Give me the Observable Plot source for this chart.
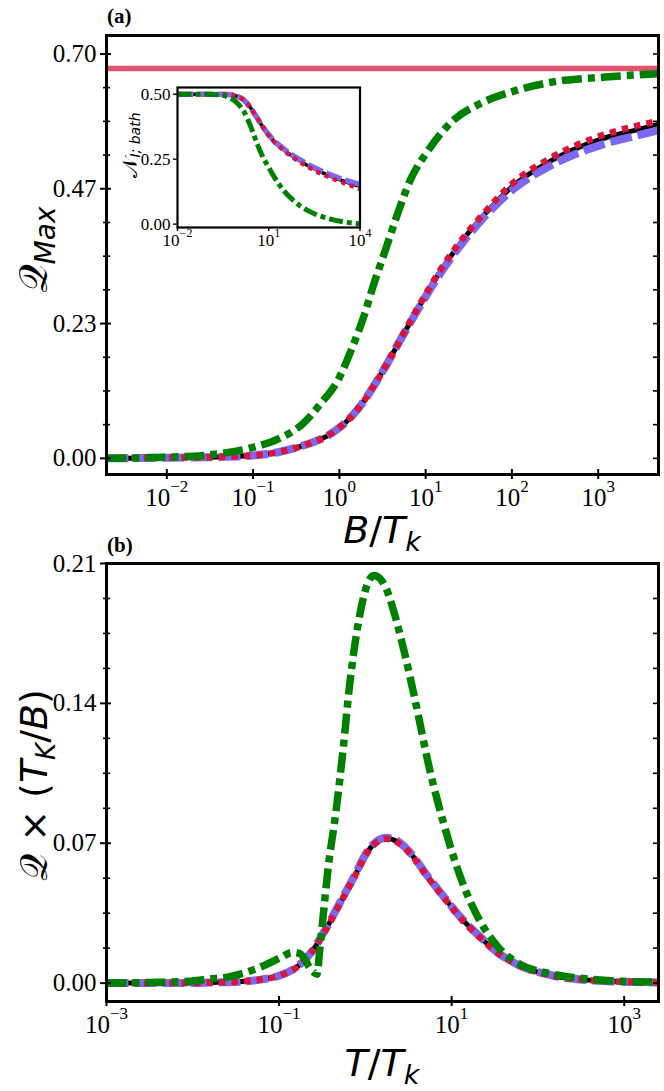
<!DOCTYPE html>
<html><head><meta charset="utf-8">
<script src="https://cdn.jsdelivr.net/npm/d3@7"></script>
<script src="https://cdn.jsdelivr.net/npm/@observablehq/plot@0.6"></script>
<style>
body{margin:0;background:#fff;}
#wrap{position:relative;width:664px;height:1091px;overflow:hidden;background:#fff;}
#wrap svg{position:absolute;left:0;}
</style></head><body><div id="wrap"></div>
<script>
// ---------- tick values ----------
const topXTicks = [1e-2, 1e-1, 1e0, 1e1, 1e2, 1e3];
const topYTicks = [0, 0.2333, 0.4667, 0.70];
const topYTickLabels = ["0.00", "0.23", "0.47", "0.70"];
const topYMinor = [0.0583, 0.1167, 0.175, 0.2917, 0.35, 0.4083, 0.525, 0.5833, 0.6417];

const botXTicks = [1e-3, 1e-1, 1e1, 1e3];
const botYTicks = [0, 0.07, 0.14, 0.21];
const botYTickLabels = ["0.00", "0.07", "0.14", "0.21"];
const botYMinor = [0.0175, 0.035, 0.0525, 0.0875, 0.105, 0.1225, 0.1575, 0.175, 0.1925];

const insetXTicks = [1e-2, 1e1, 1e4];
const insetYTicks = [0, 0.25, 0.5];
const insetYTickLabels = ["0.00", "0.25", "0.50"];

// ---------- panel (a): Q_Max vs B/T_k (x given as log10) ----------
const aLogB   = [-2.7, -2.0, -1.5, -1.0, -0.7, -0.4, -0.15, 0, 0.15, 0.3, 0.4, 0.55, 0.7, 0.85, 1.0, 1.2, 1.4, 1.65, 2.0, 2.45, 3.0, 3.4, 3.7];
const aBlack  = [0, 0.001, 0.002, 0.005, 0.011, 0.023, 0.038, 0.053, 0.074, 0.1025, 0.1255, 0.163, 0.203, 0.243, 0.282, 0.330, 0.372, 0.417, 0.470, 0.515, 0.551, 0.567, 0.578];
const aPurple = [0, 0.001, 0.002, 0.005, 0.011, 0.023, 0.038, 0.053, 0.074, 0.1025, 0.1255, 0.163, 0.203, 0.242, 0.280, 0.327, 0.368, 0.413, 0.464, 0.507, 0.541, 0.557, 0.568];
const aRed    = [0, 0.001, 0.002, 0.005, 0.011, 0.023, 0.038, 0.053, 0.074, 0.1025, 0.1255, 0.163, 0.204, 0.245, 0.284, 0.333, 0.375, 0.420, 0.475, 0.520, 0.557, 0.574, 0.584];
const aGreenLogB = [-2.7, -2.0, -1.5, -1.0, -0.7, -0.43, -0.22, 0, 0.15, 0.28, 0.4, 0.53, 0.66, 0.82, 1.03, 1.32, 1.66, 2.03, 2.45, 3.08, 3.7];
const aGreen     = [0, 0.002, 0.006, 0.019, 0.034, 0.059, 0.094, 0.14, 0.192, 0.244, 0.302, 0.359, 0.417, 0.481, 0.533, 0.585, 0.616, 0.636, 0.651, 0.660, 0.666];
const aLimit = [0.675];

// ---------- inset: N_{I;bath} vs B/T_k (x given as log10) ----------
const inLogB   = [-2, -1, -0.5, -0.2, 0, 0.2, 0.4, 0.6, 0.8, 1.0, 1.2, 1.4, 1.7, 2.0, 2.5, 3.0, 3.5, 4.0];
const inBlack  = [0.5, 0.5, 0.5, 0.497, 0.49, 0.476, 0.448, 0.412, 0.375, 0.342, 0.316, 0.295, 0.268, 0.245, 0.212, 0.186, 0.164, 0.145];
const inPurple = [0.5, 0.5, 0.5, 0.497, 0.49, 0.476, 0.448, 0.412, 0.376, 0.344, 0.318, 0.298, 0.271, 0.249, 0.217, 0.191, 0.170, 0.153];
const inRed    = [0.5, 0.5, 0.5, 0.497, 0.49, 0.476, 0.448, 0.412, 0.375, 0.341, 0.314, 0.293, 0.265, 0.241, 0.207, 0.180, 0.157, 0.135];
const inGreenLogB = [-2, -1, -0.6, -0.3, 0, 0.2, 0.4, 0.6, 0.8, 1.0, 1.2, 1.5, 1.8, 2.1, 2.5, 3.0, 3.5, 4.0];
const inGreen     = [0.5, 0.5, 0.497, 0.488, 0.462, 0.43, 0.378, 0.315, 0.26, 0.218, 0.178, 0.128, 0.092, 0.065, 0.04, 0.02, 0.008, 0.001];

// ---------- panel (b): Q x (T_K/B) vs T/T_k (x given as log10) ----------
const bLogT   = [-3, -2.5, -2, -1.8, -1.47, -1.18, -1.0, -0.8, -0.64, -0.47, -0.3, -0.13, 0.03, 0.16, 0.24, 0.37, 0.54, 0.70, 0.91, 1.12, 1.33, 1.54, 1.79, 2.17, 2.59, 3.0, 3.4];
const bBlack  = [0, 0, 0.0001, 0.0003, 0.0007, 0.002, 0.0037, 0.0078, 0.0145, 0.026, 0.0395, 0.053, 0.066, 0.0715, 0.0725, 0.0708, 0.064, 0.0545, 0.043, 0.032, 0.023, 0.015, 0.0087, 0.0037, 0.0015, 0.0007, 0.0003];
const bPurple = [0, 0, 0.0001, 0.0003, 0.0007, 0.002, 0.0037, 0.0079, 0.0147, 0.0263, 0.0398, 0.0533, 0.0663, 0.0718, 0.0728, 0.0711, 0.0643, 0.0548, 0.0432, 0.0322, 0.0232, 0.0151, 0.0088, 0.0038, 0.0015, 0.0007, 0.0003];
const bRed    = [0, 0, 0.0001, 0.0003, 0.0007, 0.002, 0.0037, 0.0077, 0.0144, 0.0258, 0.0393, 0.0528, 0.0658, 0.0713, 0.0722, 0.0705, 0.0638, 0.0543, 0.0428, 0.0318, 0.0228, 0.0149, 0.0086, 0.0037, 0.0015, 0.0007, 0.0003];
const bGreenLogT = [-3, -2.5, -2.02, -1.81, -1.6, -1.39, -1.18, -0.97, -0.85, -0.76, -0.70, -0.65, -0.60, -0.56, -0.53, -0.49, -0.43, -0.34, -0.26, -0.18, -0.09, 0.01, 0.10, 0.22, 0.33, 0.45, 0.58, 0.74, 0.91, 1.12, 1.33, 1.54, 1.79, 2.17, 2.59, 3.0, 3.4];
const bGreen     = [0, 0.0003, 0.001, 0.002, 0.003, 0.0053, 0.0087, 0.013, 0.0153, 0.0148, 0.012, 0.008, 0.0055, 0.0045, 0.016, 0.033, 0.058, 0.086, 0.116, 0.15, 0.178, 0.198, 0.204, 0.1995, 0.186, 0.166, 0.141, 0.108, 0.0795, 0.051, 0.031, 0.018, 0.0095, 0.0045, 0.002, 0.0008, 0.0005];

// ---------- styles ----------
const C = {black: "#000000", purple: "#7B68EE", red: "#DC143C", green: "#008000", limit: "#e0536f"};
const SERIF = "Liberation Serif, Times New Roman, serif";
const SANS = "DejaVu Sans, sans-serif";
const MATHCAL = "DejaVu Serif, DejaVu Sans, Noto Sans, serif";
const NS = "http://www.w3.org/2000/svg";

const rows = (logs, vals) => logs.map((e, i) => ({x: 10 ** e, y: vals[i]}));
const expFmt = d => "10^" + Math.round(Math.log10(d));

function curveMarks(series, w) {
  const [bk, pu, rd, gr] = series;
  const common = {x: "x", y: "y", curve: "monotone-x", clip: true, strokeLinecap: "butt", strokeLinejoin: "round"};
  return [
    Plot.line(bk, {...common, stroke: C.black, strokeWidth: w.black}),
    Plot.line(pu, {...common, stroke: C.purple, strokeWidth: w.purple, strokeDasharray: w.purpleDash}),
    Plot.line(rd, {...common, stroke: C.red, strokeWidth: w.red, strokeDasharray: w.redDash}),
    Plot.line(gr, {...common, stroke: C.green, strokeWidth: w.green, strokeDasharray: w.greenDash})
  ];
}

function superscriptify(svg, supSize, supDy) {
  svg.querySelectorAll('g[aria-label="x-axis tick label"] text').forEach(t => {
    const s = t.textContent;
    if (!s.includes("^")) return;
    const [base, ex] = s.split("^");
    t.textContent = "";
    const a = document.createElementNS(NS, "tspan"); a.textContent = base; t.appendChild(a);
    const b = document.createElementNS(NS, "tspan"); b.textContent = ex.replace("-", "\u2212");
    b.setAttribute("dy", supDy); b.setAttribute("font-size", supSize); t.appendChild(b);
  });
}

function addText(svg, {x, y, rotate = 0, anchor = "middle", family = SANS, size, weight = null, parts}) {
  const t = d3.select(svg).append("text")
    .attr("transform", `translate(${x},${y})` + (rotate ? ` rotate(${rotate})` : ""))
    .attr("text-anchor", anchor).attr("font-family", family).attr("font-size", size)
    .attr("font-weight", weight).attr("fill", "black");
  for (const p of parts) {
    const s = t.append("tspan").text(p.t);
    if (p.i) s.attr("font-style", "italic");
    if (p.s) s.attr("font-size", p.s);
    if (p.dy) s.attr("dy", p.dy);
    if (p.f) s.attr("font-family", p.f);
  }
}

const wrap = document.getElementById("wrap");
const baseStyle = {background: "transparent", overflow: "visible", fontFamily: SERIF};
const mainW = {black: 5, purple: 8, purpleDash: "22,6", red: 6.5, redDash: "6.5,6", green: 7.5, greenDash: "20,6,7,6"};

// ================= panel (a) =================
{
  const W = 664, H = 560, ml = 106, mr = 6, mt = 35, mb = 86;
  const fw = W - ml - mr, fh = H - mt - mb;
  const svg = Plot.plot({
    width: W, height: H, marginLeft: ml, marginRight: mr, marginTop: mt, marginBottom: mb,
    style: baseStyle,
    x: {type: "log", domain: [2e-3, 5e3]},
    y: {domain: [-0.028, 0.732]},
    marks: [
      Plot.ruleY(aLimit, {stroke: C.limit, strokeWidth: 5.5}),
      ...curveMarks([rows(aLogB, aBlack), rows(aLogB, aPurple), rows(aLogB, aRed), rows(aGreenLogB, aGreen)], mainW),
      Plot.frame({stroke: "black", strokeWidth: 3}),
      Plot.ruleX(topXTicks, {stroke: "black", strokeWidth: 2, insetTop: fh - 5, insetBottom: -5}),
      Plot.ruleY(topYTicks, {stroke: "black", strokeWidth: 2, insetLeft: -6, insetRight: fw - 5}),
      Plot.ruleY(topYMinor, {stroke: "black", strokeWidth: 1.6, insetLeft: -3, insetRight: fw - 4}),
      Plot.ruleY([...topYTicks, ...topYMinor], {stroke: "black", strokeWidth: 1.6, insetLeft: fw - 5, insetRight: 0}),
      Plot.axisX({ticks: topXTicks, tickFormat: expFmt, tickSize: 0, tickPadding: 14, fontSize: 25, fontFamily: SERIF, label: null}),
      Plot.axisY({ticks: topYTicks, tickFormat: (d, i) => topYTickLabels[i], tickSize: 0, tickPadding: 10, fontSize: 25, fontFamily: SERIF, label: null})
    ]
  });
  svg.style.top = "0px";
  superscriptify(svg, 17, -14);
  addText(svg, {x: 107, y: 23, anchor: "start", family: SERIF, size: 21, weight: "bold", parts: [{t: "(a)"}]});
  addText(svg, {x: 107, y: 552, anchor: "start", family: SERIF, size: 21, weight: "bold", parts: [{t: "(b)"}]});
  addText(svg, {x: 382, y: 543, size: 38, parts: [{t: "B", i: 1}, {t: "/"}, {t: "T", i: 1}, {t: "k", i: 1, s: 27, dy: 8}]});
  addText(svg, {x: 47, y: 250, rotate: -90, size: 40, parts: [{t: "\u{1D4AC}", f: MATHCAL}, {t: "Max", i: 1, s: 28, dy: 8}]});
  wrap.appendChild(svg);
}

// ================= panel (b) =================
{
  const top = 540;
  const W = 664, H = 1091 - top, ml = 106, mr = 6, mt = 563 - top, mb = 1091 - 1001;
  const fw = W - ml - mr, fh = H - mt - mb;
  const svg = Plot.plot({
    width: W, height: H, marginLeft: ml, marginRight: mr, marginTop: mt, marginBottom: mb,
    style: baseStyle,
    x: {type: "log", domain: [1e-3, 2.5e3]},
    y: {domain: [-0.0092, 0.21]},
    marks: [
      ...curveMarks([rows(bLogT, bBlack), rows(bLogT, bPurple), rows(bLogT, bRed), rows(bGreenLogT, bGreen)], mainW),
      Plot.frame({stroke: "black", strokeWidth: 3}),
      Plot.ruleX(botXTicks, {stroke: "black", strokeWidth: 2, insetTop: fh - 5, insetBottom: -5}),
      Plot.ruleY(botYTicks, {stroke: "black", strokeWidth: 2, insetLeft: -6, insetRight: fw - 5}),
      Plot.ruleY(botYMinor, {stroke: "black", strokeWidth: 1.6, insetLeft: -3, insetRight: fw - 4}),
      Plot.ruleY([...botYTicks, ...botYMinor], {stroke: "black", strokeWidth: 1.6, insetLeft: fw - 5, insetRight: 0}),
      Plot.axisX({ticks: botXTicks, tickFormat: expFmt, tickSize: 0, tickPadding: 14, fontSize: 25, fontFamily: SERIF, label: null}),
      Plot.axisY({ticks: botYTicks, tickFormat: (d, i) => botYTickLabels[i], tickSize: 0, tickPadding: 10, fontSize: 25, fontFamily: SERIF, label: null})
    ]
  });
  svg.style.top = top + "px";
  superscriptify(svg, 17, -14);
  addText(svg, {x: 382, y: 1076 - top, size: 38, parts: [{t: "T", i: 1}, {t: "/"}, {t: "T", i: 1}, {t: "k", i: 1, s: 27, dy: 8}]});
  addText(svg, {x: 47, y: 785 - top, rotate: -90, size: 38, parts: [
    {t: "\u{1D4AC}", f: MATHCAL}, {t: " \u00D7 ("}, {t: "T", i: 1}, {t: "K", i: 1, s: 26, dy: 8}, {t: "/", dy: -8}, {t: "B", i: 1}, {t: ")"}]});
  wrap.appendChild(svg);
}

// ================= inset =================
{
  const W = 664, H = 262, ml = 177, mr = 664 - 359.5, mt = 87, mb = 262 - 227;
  const fw = W - ml - mr, fh = H - mt - mb;
  const svg = Plot.plot({
    width: W, height: H, marginLeft: ml, marginRight: mr, marginTop: mt, marginBottom: mb,
    style: baseStyle,
    x: {type: "log", domain: [1e-2, 1e4]},
    y: {domain: [-0.013, 0.526]},
    marks: [
      Plot.frame({fill: "white"}),
      ...curveMarks([rows(inLogB, inBlack), rows(inLogB, inPurple), rows(inLogB, inRed), rows(inGreenLogB, inGreen)],
        {black: 3.5, purple: 5.5, purpleDash: "16,4", red: 4.5, redDash: "4.5,4.5", green: 5, greenDash: "14,4,5,4"}),
      Plot.frame({stroke: "black", strokeWidth: 2.2}),
      Plot.ruleX(insetXTicks, {stroke: "black", strokeWidth: 1.4, insetTop: fh, insetBottom: -4}),
      Plot.ruleY(insetYTicks, {stroke: "black", strokeWidth: 1.4, insetLeft: -4, insetRight: fw}),
      Plot.axisX({ticks: insetXTicks, tickFormat: expFmt, tickSize: 0, tickPadding: 6, fontSize: 17, fontFamily: SERIF, label: null}),
      Plot.axisY({ticks: insetYTicks, tickFormat: (d, i) => insetYTickLabels[i], tickSize: 0, tickPadding: 7, fontSize: 17, fontFamily: SERIF, label: null})
    ]
  });
  svg.style.top = "0px";
  superscriptify(svg, 12, -9);
  addText(svg, {x: 137, y: 145, rotate: -90, size: 21, parts: [{t: "\u{1D4A9}", f: MATHCAL}, {t: "I; bath", i: 1, s: 14, dy: 3}]});
  wrap.appendChild(svg);
}
</script></body></html>
